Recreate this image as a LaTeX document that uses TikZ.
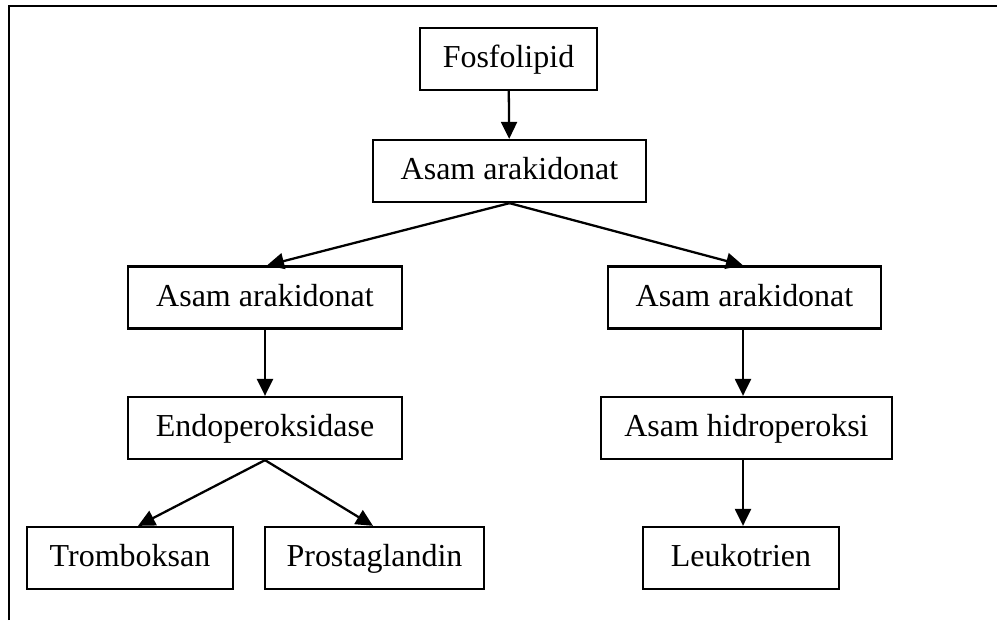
\documentclass[tikz,border=0pt]{standalone}
\usepackage{fontspec}
\setmainfont{Liberation Serif}
\usetikzlibrary{arrows.meta,calc,positioning}

\tikzset{
  blok/.style={draw, line width=1.3pt, minimum height=1.24cm, inner sep=0pt,
    text height=13.7pt, text depth=3.6pt,
    font=\fontsize{18.2}{22}\selectfont},
  panah/.style={line width=1.3pt, -{Triangle[length=0.34cm,width=0.32cm]}}
}

\begin{document}
\begin{tikzpicture}[x=0.02cm,y=-0.02cm]
\useasboundingbox (0,0) rectangle (997,620);
\draw[line width=1.1pt] (9,620) -- (9,6) -- (997,6);
\node[blok, minimum width=3.54cm] (fosfo) at (508.5,59) {Fosfolipid};
\node[blok, minimum width=5.46cm] (asam) at (509.5,171) {Asam arakidonat};
\node[blok, minimum width=5.48cm] (asamkiri) at (265,297.5) {Asam arakidonat};
\node[blok, minimum width=5.46cm] (asamkanan) at (744.5,297.5) {Asam arakidonat};
\node[blok, minimum width=5.48cm] (endo) at (265,428) {Endoperoksidase};
\node[blok, minimum width=5.82cm] (hidro) at (746.5,428) {Asam hidroperoksi};
\node[blok, minimum width=4.12cm] (trombo) at (130,558) {Tromboksan};
\node[blok, minimum width=4.38cm] (prosta) at (374.5,558) {Prostaglandin};
\node[blok, minimum width=3.92cm] (leuko) at (741,558) {Leukotrien};
\draw[panah] (fosfo) -- (asam);
\draw[panah] (asam.south) -- ($(asamkiri.north)+(2,0)$);
\draw[panah] (asam.south) -- ($(asamkanan.north)+(-1.5,0)$);
\draw[panah] (asamkiri) -- (endo);
\draw[panah] ($(asamkanan.south)+(-1.5,0)$) -- ($(asamkanan.south |- hidro.north)+(-1.5,0)$);
\draw[panah] ($(leuko.north |- hidro.south)+(2,0)$) -- ($(leuko.north)+(2,0)$);
\draw[panah] (endo.south) -- ($(trombo.north)+(8,0)$);
\draw[panah] (endo.south) -- ($(prosta.north)+(-1.5,0)$);
\end{tikzpicture}
\end{document}
